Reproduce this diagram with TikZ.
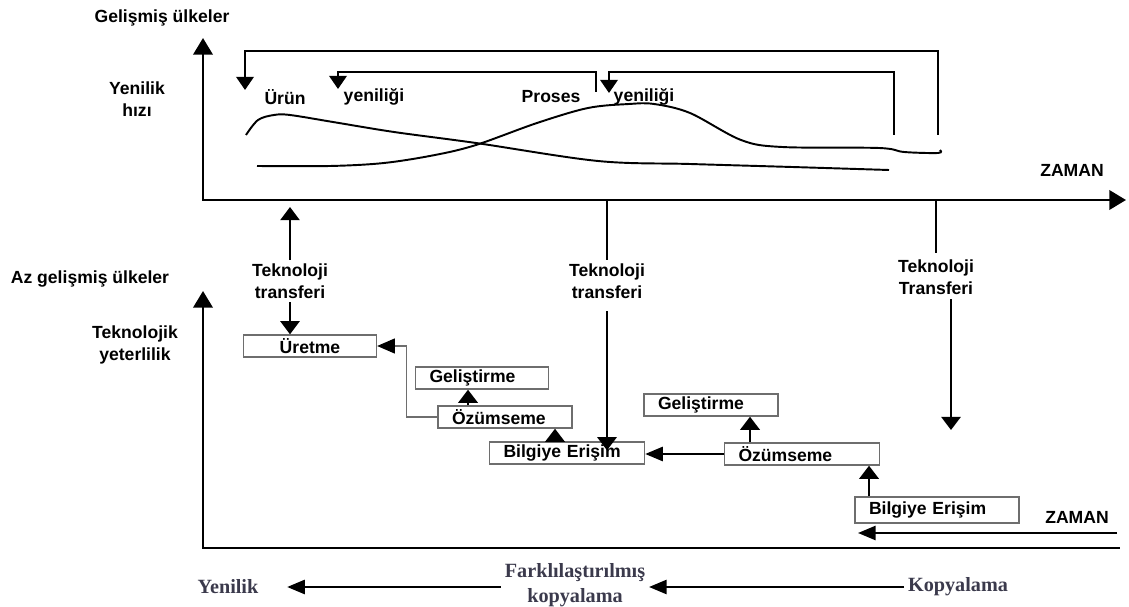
\documentclass[tikz,border=0pt]{standalone}
\usepackage{fontspec}
\setmainfont{Liberation Sans}
\newfontfamily\serifyazi{Liberation Serif}
\usetikzlibrary{arrows.meta}
\definecolor{etiket}{HTML}{3B3A4C}
\definecolor{kenar}{HTML}{6E6E6E}

\tikzset{
  yazi/.style={font=\fontsize{10}{12.5}\selectfont\bfseries, align=center, inner sep=2pt},
  altyazi/.style={font=\serifyazi\fontsize{11.5}{14}\selectfont\bfseries, text=etiket, align=center, inner sep=2pt},
  kutu/.style={draw=kenar, line width=0.8pt, font=\fontsize{10}{12}\selectfont\bfseries, minimum height=0.44cm, inner xsep=0.28cm, inner ysep=0pt, align=left},
  eksen/.style={line width=1.6pt},
  egri/.style={line width=1.1pt, smooth, tension=0.55},
  geri/.style={line width=1.1pt, -{Triangle[length=7.5pt,width=10pt]}},
  ok/.style={line width=1.3pt, -{Triangle[length=7.5pt,width=11pt]}},
  okince/.style={line width=0.6pt, draw=kenar, -{Triangle[length=10pt,width=8.5pt,color=black]}},
  okyatay/.style={line width=1.3pt, -{Triangle[length=10pt,width=8pt]}}
}

\begin{document}
\begin{tikzpicture}[x=0.02cm, y=-0.02cm]
  \useasboundingbox (0,0) rectangle (1129,607);

  % gelismis ulkeler
  \coordinate (o1) at (203,200);
  \coordinate (ust1) at (203,38);
  \coordinate (sag1) at (1126,200);
  \draw[eksen, {Triangle[length=9.5pt,width=11pt]}-{Triangle[length=9.5pt,width=11pt]}] (ust1) -- (o1) -- (sag1);

  \node[yazi] (gel) at (162,18) {Gelişmiş ülkeler};
  \node[yazi] (yhiz) at (137,99) {Yenilik\\hızı};
  \node[yazi] (zaman1) at (1072,170) {ZAMAN};

  \node[yazi] (urun) at (285,97) {Ürün};
  \node[yazi] (yen1) at (374,97) {yeniliği};
  \node[yazi] (proses) at (551,97) {Proses};
  \node[yazi] (yen2) at (644,97) {yeniliği};

  % egriler
  \draw[egri] plot coordinates {(246,135) (258,120) (274,115) (290,115) (333,122) (394,132) (476,143) (598,161) (690,164) (792,167) (889,170)};
  \draw[egri] plot coordinates {(257,166) (330,166) (384,163) (435,155) (476,145) (537,123) (588,108) (629,104) (654,104) (690,113) (741,140) (782,147) (879,148) (904,152) (938,153) (940,150)};

  % geri donusler
  \coordinate (g1) at (938,135);
  \coordinate (g2) at (596,92);
  \coordinate (g3) at (894,135);
  \draw[geri] (g1) -- ++(0,-84) -| (245,90);
  \draw[geri] (g2) -- ++(0,-20) -| (338,89);
  \draw[geri] (g3) -- ++(0,-63) -| (609,93);

  % teknoloji transferi
  \node[yazi] (tt1) at (290,281) {Teknoloji\\transferi};
  \node[yazi] (tt2) at (607,281) {Teknoloji\\transferi};
  \node[yazi] (tt3) at (936,277) {Teknoloji\\Transferi};
  \coordinate (tt1uc) at (290,207);
  \coordinate (tt3uc) at (951,430);

  \draw[ok, line width=1pt] (tt1.north) -- (tt1uc);
  \draw[line width=1.1pt] (tt2.north |- o1) -- (tt2.north);
  \draw[line width=1.1pt] (tt3.north |- o1) -- ([yshift=0.06cm]tt3.north);

  % az gelismis ulkeler
  \coordinate (o2) at (203,548);
  \coordinate (ust2) at (203,291);
  \coordinate (sag2) at (1120,548);
  \draw[eksen, {Triangle[length=9.5pt,width=11pt]}-] (ust2) -- (o2) -- (sag2);

  \node[yazi] (az) at (90,279) {Az gelişmiş ülkeler};
  \node[yazi] (tekyet) at (135,345) {Teknolojik\\yeterlilik};
  \node[yazi] (zaman2) at (1077,517) {ZAMAN};

  \node[kutu, text width=2.1cm, align=center] (uretme) at (310,346) {Üretme};
  \node[kutu, text width=2.1cm] (gel1) at (482,378) {Geliştirme};
  \node[kutu, text width=2.12cm] (ozu1) at (505,417) {Özümseme};
  \node[kutu, text width=2.54cm] (bilg1) at (567,453) {Bilgiye Erişim};
  \node[kutu, text width=2.12cm] (gel2) at (711,405) {Geliştirme};
  \node[kutu, text width=2.54cm] (ozu2) at (802,454) {Özümseme};
  \node[kutu, text width=2.72cm, minimum height=0.52cm] (bilg2) at (937,510) {Bilgiye Erişim};

  \draw[ok, line width=1pt] (tt1.south) -- (tt1.south |- uretme.north);
  \draw[ok] ([yshift=-0.18cm]tt2.south) -- ([yshift=-0.18cm]tt2.south |- bilg1.north);
  \draw[ok] ([yshift=-0.02cm]tt3.south -| tt3uc) -- (tt3uc);

  \draw[okince] (ozu1.west) -- ++(-31,0) |- (uretme.east);
  \draw[ok, line width=1.6pt] ([xshift=-0.74cm]ozu1.north) -- ([xshift=-0.74cm]ozu1.north |- gel1.south);
  \draw[ok, line width=1.6pt] ([xshift=-0.24cm]bilg1.north) -- ([xshift=-0.24cm]bilg1.north |- ozu1.south);
  \draw[okyatay] (ozu2.west) -- (ozu2.west -| bilg1.east);
  \draw[ok, line width=1.6pt] ([xshift=-1.04cm]ozu2.north) -- ([xshift=-1.04cm]ozu2.north |- gel2.south);
  \draw[ok, line width=1.6pt] ([xshift=-1.36cm]bilg2.north) -- ([xshift=-1.36cm]bilg2.north |- ozu2.south);

  \coordinate (zb1) at (1117,533);
  \coordinate (zb2) at (858,533);
  \draw[okyatay] (zb1) -- (zb2);

  % alt etiketler
  \node[altyazi] (yenilik) at (228,587) {Yenilik};
  \node[altyazi] (fark) at (575,585) {Farklılaştırılmış\\kopyalama};
  \node[altyazi] (kop) at (958,587) {Kopyalama};
  \draw[okyatay] (kop.west) -- (kop.west -| fark.east);
  \draw[okyatay, shorten >=0.5cm] (fark.west |- yenilik.east) -- (yenilik.east);
\end{tikzpicture}
\end{document}
